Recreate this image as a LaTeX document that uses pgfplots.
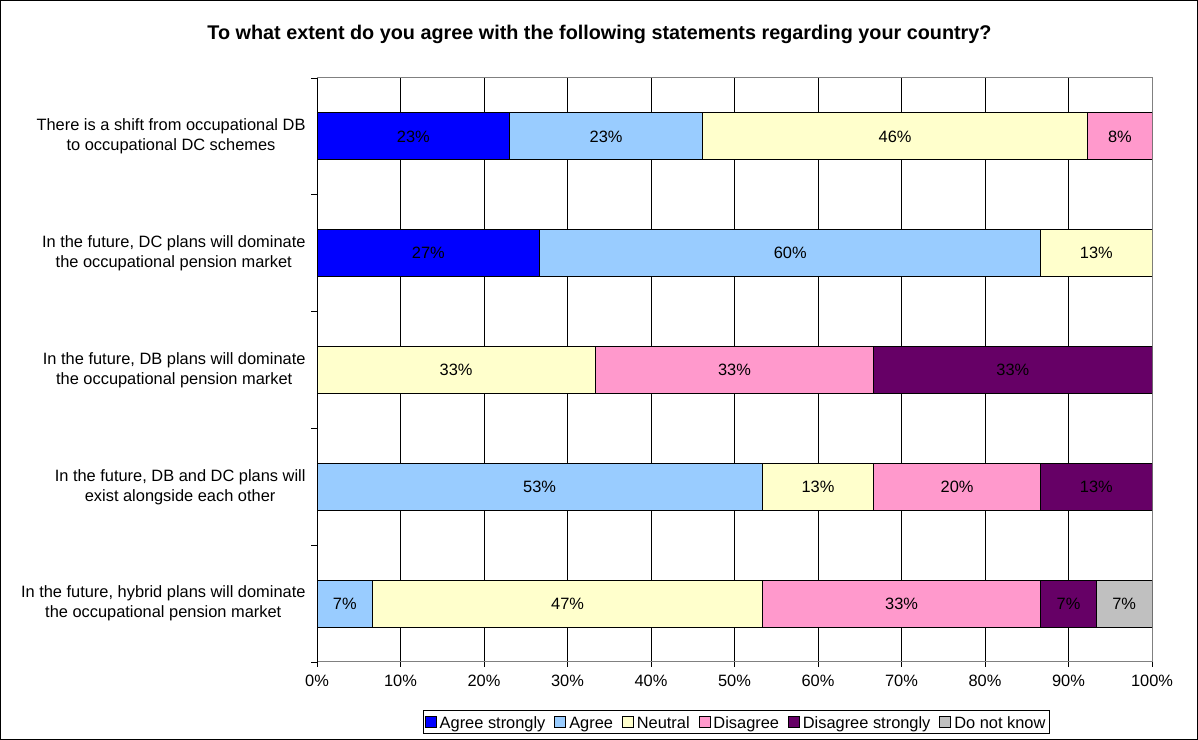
\documentclass[border=0pt]{standalone}
\usepackage{pgfplots}
\pgfplotsset{compat=1.18}
\usepackage{fontspec}
\setmainfont{Liberation Sans}
\definecolor{cAS}{HTML}{0000FF}
\definecolor{cA}{HTML}{99CCFF}
\definecolor{cN}{HTML}{FFFFCC}
\definecolor{cD}{HTML}{FF99CC}
\definecolor{cDS}{HTML}{660066}
\definecolor{cDK}{HTML}{C0C0C0}
\newcommand\lbl{\fontsize{16.4bp}{20bp}\selectfont}
\begin{document}
\begin{tikzpicture}[x=1bp,y=1bp]
\path[use as bounding box] (0,0) rectangle (1198,740);
\draw[line width=1.2bp] (0.6,0.6) rectangle (1197.4,739.4);
\node[font=\bfseries\fontsize{19.8bp}{23bp}\selectfont, anchor=base, inner sep=0pt] at (599.5,700) {To what extent do you agree with the following statements regarding your country?};
\begin{axis}[
  at={(317bp,78bp)}, anchor=south west,
  scale only axis, width=835bp, height=584bp,
  xmin=0, xmax=100, ymin=0.5, ymax=5.5,
  xbar stacked, bar width=47bp,
  xtick={0,10,...,100},
  xticklabels={0\%,10\%,20\%,30\%,40\%,50\%,60\%,70\%,80\%,90\%,100\%},
  xmajorgrids, major grid style={black, line width=0.8bp},
  ytick={1,2,3,4,5},
  yticklabels={{In the future, hybrid plans will dominate\\the occupational pension market},
               {In the future, DB and DC plans will\\exist alongside each other},
               {In the future, DB plans will dominate\\the occupational pension market},
               {In the future, DC plans will dominate\\the occupational pension market},
               {There is a shift from occupational DB\\to occupational DC schemes}},
  minor ytick={0.5,1.5,2.5,3.5,4.5,5.5},
  tick pos=left, tick align=outside,
  major tick length=5bp, minor tick length=6bp,
  every major y tick/.append style={draw=none},
  every tick/.append style={black, line width=0.8bp},
  axis line style={draw=gray, line width=1bp},
  tick label style={font=\lbl},
  yticklabel style={align=center, xshift=-3bp},
  xticklabel style={yshift=-5bp},
  legend columns=-1,
  legend style={at={(0.5020,-0.1027)}, anchor=center, draw=black, line width=0.8bp,
    font=\lbl, inner sep=1.5bp,
    /tikz/every even column/.append style={column sep=7bp},
    /tikz/every odd column/.append style={column sep=1bp}},
  legend image code/.code={\draw[#1, draw=black, line width=0.8bp] (0bp,-5.5bp) rectangle (11bp,5.5bp);},
  nodes near coords, point meta=explicit symbolic,
  nodes near coords align={center},
  every node near coord/.append style={anchor=center, font=\lbl, text=black},
]
\addplot[fill=cAS, draw=black, line width=0.8bp] coordinates {(23.08,5) [23\%] (26.67,4) [27\%] (0,3) [] (0,2) [] (0,1) []};
\addplot[fill=cA, draw=black, line width=0.8bp] coordinates {(23.08,5) [23\%] (60,4) [60\%] (0,3) [] (53.33,2) [53\%] (6.67,1) [7\%]};
\addplot[fill=cN, draw=black, line width=0.8bp] coordinates {(46.15,5) [46\%] (13.33,4) [13\%] (33.33,3) [33\%] (13.33,2) [13\%] (46.67,1) [47\%]};
\addplot[fill=cD, draw=black, line width=0.8bp] coordinates {(7.69,5) [8\%] (0,4) [] (33.33,3) [33\%] (20,2) [20\%] (33.33,1) [33\%]};
\addplot[fill=cDS, draw=black, line width=0.8bp] coordinates {(0,5) [] (0,4) [] (33.34,3) [33\%] (13.34,2) [13\%] (6.67,1) [7\%]};
\addplot[fill=cDK, draw=black, line width=0.8bp] coordinates {(0,5) [] (0,4) [] (0,3) [] (0,2) [] (6.66,1) [7\%]};
\legend{\strut Agree strongly,\strut Agree,\strut Neutral,\strut Disagree,\strut Disagree strongly,\strut Do not know}
\draw[black, line width=1bp] (rel axis cs:0,0) -- (rel axis cs:0,1);
\end{axis}
\end{tikzpicture}
\end{document}
